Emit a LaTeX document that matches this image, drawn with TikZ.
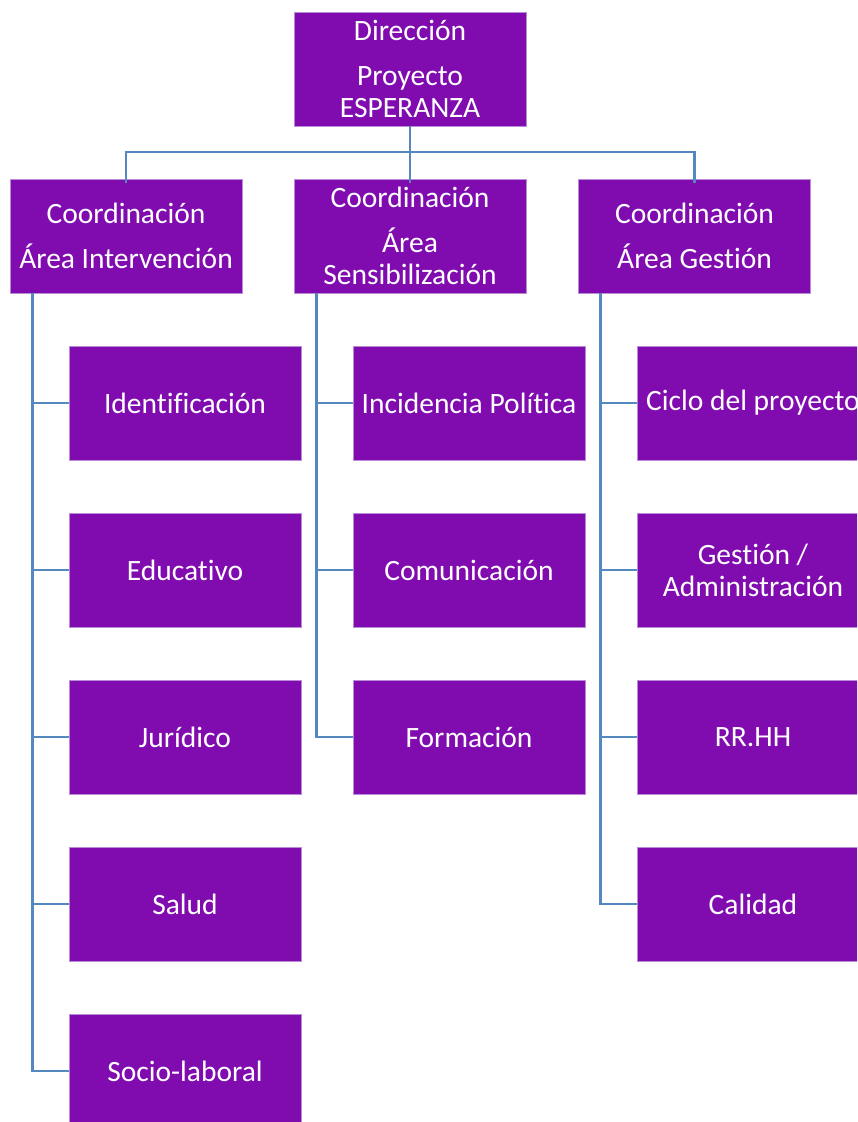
\documentclass[tikz,border=0pt]{standalone}
\usepackage{fontspec}
\setmainfont{Carlito}[Ligatures=NoCommon]
\definecolor{boxfill}{RGB}{128,12,176}
\definecolor{boxedge}{RGB}{185,140,215}
\definecolor{conncol}{RGB}{84,136,192}
\begin{document}
\begin{tikzpicture}[x=1pt,y=-1pt,
  box/.style={rectangle, fill=boxfill, draw=boxedge, line width=0.6pt, minimum width=232pt, minimum height=114pt, inner sep=0pt, text=white, align=center, font=\fontsize{29.5}{32}\selectfont},
  conn/.style={draw=conncol, line width=2.6pt}]
\useasboundingbox (0,0) rectangle (857,1122);
\clip (0,0) rectangle (857,1122);
% top
\node[box] (top) at (410,69) {Dirección\\[13pt]Proyecto\\ESPERANZA};
% coordination
\node[box] (c1) at (126,236) {Coordinación\\[13pt]Área Intervención};
\node[box] (c2) at (410,236) {Coordinación\\[13pt]Área\\Sensibilización};
\node[box] (c3) at (694.5,236) {Coordinación\\[13pt]Área Gestión};
% left column
\node[box] (l1) at (185,403) {Identificación};
\node[box] (l2) at (185,570) {Educativo};
\node[box] (l3) at (185,737) {Jurídico};
\node[box] (l4) at (185,904) {Salud};
\node[box] (l5) at (185,1071) {Socio-laboral};
% middle column
\node[box] (m1) at (469,403) {Incidencia Política};
\node[box] (m2) at (469,570) {Comunicación};
\node[box] (m3) at (469,737) {Formación};
% right column
\node[box] (r1) at (753,403) {Ciclo del proyecto};
\node[box] (r2) at (753,570) {Gestión /\\Administración};
\node[box] (r3) at (753,737) {RR.HH};
\node[box] (r4) at (753,904) {Calidad};
% bus
\coordinate (j) at (410,152);
\draw[conn] (top.south) -- (j);
\draw[conn] (j) -- ([yshift=-4pt]c2.north);
\draw[conn] ([yshift=-4pt]c1.north) |- (j) -| ([yshift=-4pt]c3.north);
% spines
\foreach \n in {l1,l2,l3,l4,l5}
  \draw[conn] ([xshift=23pt]c1.south west) |- (\n.west);
\foreach \n in {m1,m2,m3}
  \draw[conn] ([xshift=23pt]c2.south west) |- (\n.west);
\foreach \n in {r1,r2,r3,r4}
  \draw[conn] ([xshift=22pt]c3.south west) |- (\n.west);
\end{tikzpicture}
\end{document}
